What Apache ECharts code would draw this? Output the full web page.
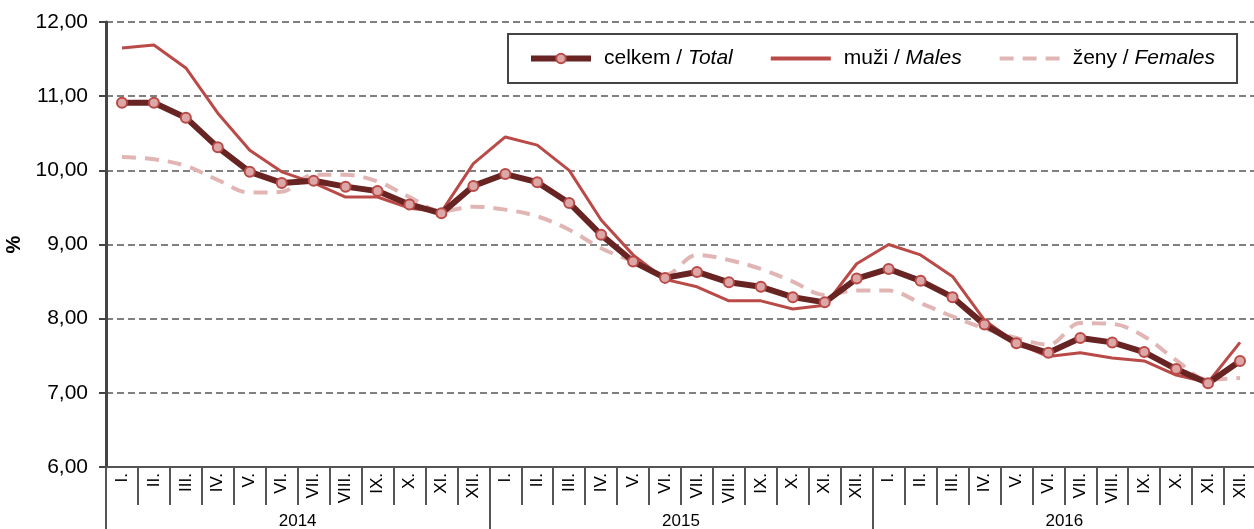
<!DOCTYPE html>
<html>
<head>
<meta charset="utf-8">
<script src="https://cdn.jsdelivr.net/npm/echarts@6/dist/echarts.min.js"></script>
<style>
  html, body { margin: 0; padding: 0; background: #fff; }
  #chart { width: 1254px; height: 529px; }
</style>
</head>
<body>
<div id="chart"></div>
<script>
// months (roman) for three years
const months = ['I.', 'II.', 'III.', 'IV.', 'V.', 'VI.', 'VII.', 'VIII.', 'IX.', 'X.', 'XI.', 'XII.']
const years = ['2014', '2015', '2016']
const categories = years.flatMap(y => months.map(m => m + '|' + y))

// celkem / Total
const total = [10.91, 10.91, 10.71, 10.31, 9.98, 9.83, 9.86, 9.78, 9.72, 9.54, 9.42, 9.79,
  9.95, 9.84, 9.56, 9.13, 8.77, 8.55, 8.63, 8.49, 8.43, 8.29, 8.22, 8.54,
  8.67, 8.51, 8.29, 7.92, 7.67, 7.54, 7.74, 7.68, 7.55, 7.32, 7.13, 7.43]
// muzi / Males
const males = [11.65, 11.69, 11.38, 10.77, 10.27, 9.98, 9.83, 9.64, 9.64, 9.49, 9.44, 10.09,
  10.45, 10.34, 10.0, 9.33, 8.86, 8.53, 8.43, 8.24, 8.24, 8.13, 8.18, 8.74,
  9.0, 8.86, 8.57, 7.98, 7.67, 7.49, 7.54, 7.47, 7.43, 7.24, 7.14, 7.68]
// zeny / Females
const females = [10.18, 10.15, 10.06, 9.87, 9.70, 9.71, 9.94, 9.94, 9.85, 9.64, 9.45, 9.51,
  9.47, 9.38, 9.20, 8.95, 8.77, 8.59, 8.86, 8.79, 8.67, 8.50, 8.32, 8.38,
  8.38, 8.21, 8.03, 7.87, 7.74, 7.65, 7.94, 7.93, 7.76, 7.44, 7.18, 7.20]

const yMin = 6
const yMax = 12
const yStep = 1

const chart = echarts.init(document.getElementById('chart'))
const font = 'Liberation Sans, Arial, sans-serif'

const cTotal = '#682323'
const cMales = '#BA4A47'
const cFemales = '#E2B5B5'

const option = {
  animation: false,
  textStyle: { fontFamily: font },
  grid: { left: 106, top: 22, width: 1150, height: 445, containLabel: false, outerBoundsMode: 'none' },
  legend: {
    left: 508,
    top: 34,
    padding: [14, 22, 14, 20],
    itemGap: 36,
    itemWidth: 60,
    itemHeight: 12,
    borderColor: '#444',
    borderWidth: 2,
    borderRadius: 0,
    textStyle: {
      fontSize: 21,
      color: '#000',
      rich: {
        n: { fontSize: 21, color: '#000', fontFamily: font, padding: [0, 0, 0, 8] },
        e: { fontSize: 21, color: '#000', fontStyle: 'italic', fontFamily: font }
      }
    },
    formatter: name => {
      const p = name.split(' / ')
      return '{n|' + p[0] + ' / }{e|' + p[1] + '}'
    },
    data: [
      { name: 'celkem / Total', lineStyle: { width: 6, color: cTotal } },
      { name: 'muži / Males', lineStyle: { width: 4, color: cMales }, itemStyle: { opacity: 0 } },
      { name: 'ženy / Females', lineStyle: { width: 4, color: cFemales, type: [14, 9] }, itemStyle: { opacity: 0 } }
    ]
  },
  xAxis: [
    {
      type: 'category',
      data: categories,
      boundaryGap: true,
      axisLine: { show: true, lineStyle: { color: '#555', width: 2 } },
      axisTick: { show: true, interval: 0, length: 38, lineStyle: { color: '#555', width: 2 } },
      axisLabel: {
        interval: 0,
        rotate: 90,
        fontSize: 17,
        color: '#000',
        margin: 6,
        formatter: v => v.split('|')[0]
      },
      splitLine: { show: false }
    },
    {
      type: 'category',
      data: years,
      position: 'bottom',
      gridIndex: 0,
      boundaryGap: true,
      axisLine: { show: false },
      axisTick: { show: true, interval: 0, length: 70, lineStyle: { color: '#555', width: 2 } },
      axisLabel: { interval: 0, fontSize: 17, color: '#000', margin: 46 },
      splitLine: { show: false }
    }
  ],
  yAxis: {
    type: 'value',
    min: yMin,
    max: yMax,
    interval: yStep,
    name: '%',
    nameLocation: 'middle',
    nameRotate: 90,
    nameGap: 79,
    nameTextStyle: { fontSize: 20, fontWeight: 'bold', color: '#000' },
    axisLine: { show: true, lineStyle: { color: '#444', width: 3 } },
    axisTick: { show: true, length: 7, lineStyle: { color: '#444', width: 2 } },
    axisLabel: {
      fontSize: 21,
      color: '#000',
      margin: 18,
      formatter: v => v.toFixed(2).replace('.', ',')
    },
    splitLine: { show: true, lineStyle: { color: '#808080', width: 2, type: [7, 4] } }
  },
  series: [
    {
      name: 'muži / Males',
      type: 'line',
      data: males,
      symbol: 'none',
      lineStyle: { color: cMales, width: 3 },
      itemStyle: { color: cMales },
      z: 2
    },
    {
      name: 'ženy / Females',
      type: 'line',
      data: females,
      symbol: 'none',
      smooth: 0.35,
      lineStyle: { color: cFemales, width: 4, type: [14, 9] },
      itemStyle: { color: cFemales },
      z: 1
    },
    {
      name: 'celkem / Total',
      type: 'line',
      data: total,
      symbol: 'circle',
      symbolSize: 10,
      lineStyle: { color: cTotal, width: 6 },
      itemStyle: { color: '#DCA7A7', borderColor: cMales, borderWidth: 2 },
      z: 3
    }
  ]
}

chart.setOption(option)
</script>
</body>
</html>
